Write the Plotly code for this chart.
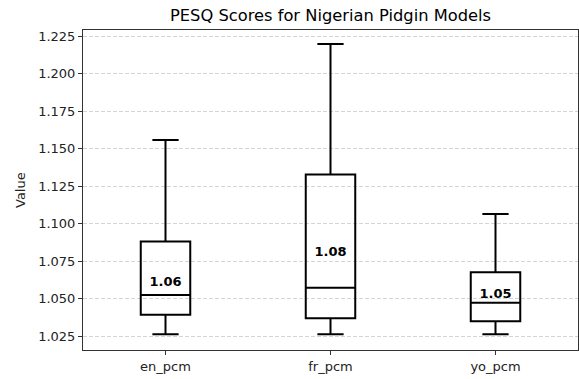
import plotly.graph_objects as go

categories = ["en_pcm", "fr_pcm", "yo_pcm"]
positions = [1, 2, 3]
q1 = [1.0395, 1.0371, 1.0351]
median = [1.0526, 1.0574, 1.0475]
q3 = [1.0882, 1.1328, 1.0678]
lower = [1.0265, 1.0265, 1.0265]
upper = [1.1558, 1.2197, 1.1065]
means = [1.061, 1.081, 1.053]
mean_labels = ["1.06", "1.08", "1.05"]
yticks = [1.025, 1.050, 1.075, 1.100, 1.125, 1.150, 1.175, 1.200, 1.225]

font = "DejaVu Sans"
L, R, T, B = 83, 1, 30, 29
W, H = 579, 379

fig = go.Figure()
fig.add_trace(go.Box(
    x=positions, q1=q1, median=median, q3=q3,
    lowerfence=lower, upperfence=upper,
    width=0.3, whiskerwidth=0.53,
    fillcolor="rgba(255,255,255,0)",
    line=dict(color="black", width=2),
    boxpoints=False, hoverinfo="skip", showlegend=False,
))
fig.add_trace(go.Scatter(
    x=positions, y=means, mode="text",
    text=["<b>%s</b>" % t for t in mean_labels],
    textposition="middle center",
    textfont=dict(family=font, size=13, color="black"),
    hoverinfo="skip", showlegend=False,
))

fig.update_layout(
    width=W, height=H,
    margin=dict(l=L, r=R, t=T, b=B, autoexpand=False),
    plot_bgcolor="white", paper_bgcolor="white",
    font=dict(family=font, size=13, color="#222"),
    title=dict(text="PESQ Scores for Nigerian Pidgin Models",
               x=(L + W - R) / 2 / W, xanchor="center",
               y=1 - 15 / H, yanchor="middle", yref="container",
               font=dict(family=font, size=16.3, color="black")),
    annotations=[dict(text="Value", textangle=-90, xref="paper", yref="paper",
                      x=(20 - L) / (W - L - R), y=0.5, xanchor="center",
                      yanchor="middle", showarrow=False,
                      font=dict(family=font, size=13, color="#222"))],
)
fig.update_xaxes(
    range=[0.5, 3.5], tickvals=positions, ticktext=categories,
    showgrid=False, zeroline=False, automargin=False,
    showline=True, mirror=True, linecolor="#333", linewidth=1,
    ticks="outside", ticklen=4, tickcolor="#333",
)
fig.update_yaxes(
    range=[1.016, 1.229], tickvals=yticks,
    ticktext=["%.3f" % v for v in yticks],
    showgrid=True, gridcolor="#d4d4d4", griddash="4px,2px", gridwidth=1,
    zeroline=False, automargin=False,
    showline=True, mirror=True, linecolor="#333", linewidth=1,
    ticks="outside", ticklen=4, tickcolor="#333",
)

fig.write_html("out.html", config={"displayModeBar": False},
               post_script="document.body.style.margin='0px';document.body.style.overflow='hidden';")
